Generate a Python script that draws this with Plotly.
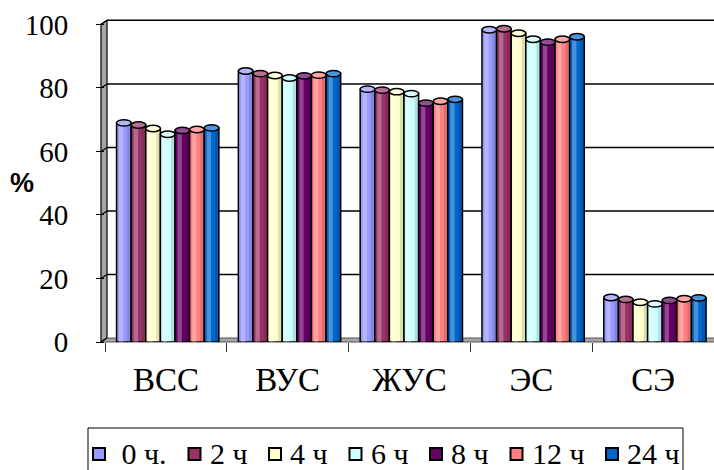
import plotly.graph_objects as go

# ---- data -------------------------------------------------------------
categories = ["ВСС", "ВУС", "ЖУС", "ЭС", "СЭ"]
series_names = [" 0 ч.", "2 ч", "4 ч", "6 ч", "8 ч", "12 ч", "24 ч"]

h0 = [69.0, 85.3, 79.6, 98.3, 14.0]
h2 = [68.3, 84.5, 79.3, 98.6, 13.4]
h4 = [67.2, 83.9, 78.8, 97.2, 12.5]
h6 = [65.4, 83.1, 78.2, 95.3, 12.0]
h8 = [66.6, 83.8, 75.2, 94.4, 13.1]
h12 = [66.9, 84.0, 75.8, 95.3, 13.6]
h24 = [67.4, 84.5, 76.4, 96.1, 13.9]
series_values = [h0, h2, h4, h6, h8, h12, h24]

y_ticks = [0, 20, 40, 60, 80, 100]

# ---- style ------------------------------------------------------------
colors = ["#9999FF", "#993366", "#FFFFCC", "#CCFFFF", "#660066", "#FF8080", "#0066CC"]
SERIF = "Liberation Serif"
SANS = "Liberation Sans"

W_PX, H_PX = 714, 470
M_L, M_R, M_T, M_B = 105, 0, 18, 128
PLOT_W = W_PX - M_L - M_R
PLOT_H = H_PX - M_T - M_B
Y_MAX = 102.0

BAR_W = 0.12          # width of one cylinder (category step = 1)
SHIFT = 0.015         # slight right shift of the bar block (depth effect)
DEPTH_DX, DEPTH_DY = 6, 4   # back-wall offset in pixels
FRONT_PX = 101
CAP_H = 1.0           # half-height of the cylinder top ellipse (data units)

# legend box geometry (pixels)
LEG_LEFT, LEG_RIGHT, LEG_TOP = 88, 683, 428
LEG_FONT = 30
LEG_SQ = 12           # swatch size
LEG_SQ_GAP = 8        # swatch -> text
LEG_ITEM_GAP = 23     # text -> next swatch
LEG_MID = 454         # vertical centre of the legend row


def px_x(px):
    return (px - M_L) / PLOT_W


def px_y(py):
    return (M_T + PLOT_H - py) / PLOT_H


def val_y(v, dy_px=0.0):
    return v / Y_MAX + dy_px / PLOT_H


def tint(hex_color, k):
    r, g, b = (int(hex_color[i:i + 2], 16) for i in (1, 3, 5))
    r, g, b = (int(c + (255 - c) * k) for c in (r, g, b))
    return f"#{r:02x}{g:02x}{b:02x}"


def text_width(s, size):
    # rough advance widths for a Times-like face
    w = 0.0
    for ch in s:
        if ch == " " or ch == ".":
            w += 0.25
        else:
            w += 0.5
    return w * size


fig = go.Figure()
shapes = []
annotations = []

n = len(series_names)
for j, (name, vals, col) in enumerate(zip(series_names, series_values, colors)):
    xs = [i + (j - (n - 1) / 2) * BAR_W + SHIFT for i in range(len(categories))]
    # cylinder body
    fig.add_trace(go.Bar(
        x=xs, y=vals, width=BAR_W, name=name,
        marker=dict(color=col, line=dict(color="black", width=1.5)),
        hoverinfo="skip", showlegend=False,
    ))
    # soft highlight on the left half of each cylinder
    fig.add_trace(go.Bar(
        x=[x - 0.022 for x in xs], y=vals, width=0.035,
        marker=dict(color="white", opacity=0.28, line=dict(width=0)),
        showlegend=False, hoverinfo="skip",
    ))
    # darker rim on the right side
    fig.add_trace(go.Bar(
        x=[x + 0.042 for x in xs], y=vals, width=0.03,
        marker=dict(color="black", opacity=0.13, line=dict(width=0)),
        showlegend=False, hoverinfo="skip",
    ))
    # elliptical tops
    for x, v in zip(xs, vals):
        shapes.append(dict(
            type="circle", xref="x", yref="y", layer="above",
            x0=x - BAR_W / 2, x1=x + BAR_W / 2, y0=v - CAP_H, y1=v + CAP_H,
            fillcolor=tint(col, 0.3), line=dict(color="black", width=1.5),
        ))

back_x = px_x(FRONT_PX + DEPTH_DX)
front_x = px_x(FRONT_PX)

# side wall
shapes.append(dict(
    type="path", xref="paper", yref="paper", layer="below",
    path=(f"M {front_x} {val_y(0)} L {back_x} {val_y(0, DEPTH_DY)} "
          f"L {back_x} {val_y(100, DEPTH_DY)} L {front_x} {val_y(100)} Z"),
    fillcolor="#a6a6a6", line=dict(color="black", width=1.2),
))
# floor
shapes.append(dict(
    type="path", xref="paper", yref="paper", layer="below",
    path=(f"M {front_x} {val_y(0)} L {back_x} {val_y(0, DEPTH_DY)} "
          f"L 1.01 {val_y(0, DEPTH_DY)} L 1.01 {val_y(0)} Z"),
    fillcolor="#a6a6a6", line=dict(color="#555555", width=1),
))
# back-wall gridlines and their links to the tick marks
for v in y_ticks[1:]:
    shapes.append(dict(
        type="line", xref="paper", yref="paper", layer="below",
        x0=back_x, x1=1.01, y0=val_y(v, DEPTH_DY), y1=val_y(v, DEPTH_DY),
        line=dict(color="black", width=1.5),
    ))
for v in y_ticks:
    shapes.append(dict(
        type="line", xref="paper", yref="paper", layer="below",
        x0=front_x, x1=back_x, y0=val_y(v), y1=val_y(v, DEPTH_DY),
        line=dict(color="black", width=1.2),
    ))

# legend: framed row of swatches and labels
shapes.append(dict(
    type="rect", xref="paper", yref="paper", layer="above",
    x0=px_x(LEG_LEFT), x1=px_x(LEG_RIGHT), y0=px_y(LEG_TOP), y1=px_y(H_PX + 20),
    fillcolor="white", line=dict(color="black", width=1),
))
cursor = 93
for name, col in zip(series_names, colors):
    shapes.append(dict(
        type="rect", xref="paper", yref="paper", layer="above",
        x0=px_x(cursor), x1=px_x(cursor + LEG_SQ),
        y0=px_y(LEG_MID + LEG_SQ / 2), y1=px_y(LEG_MID - LEG_SQ / 2),
        fillcolor=col, line=dict(color="black", width=2),
    ))
    tx = cursor + LEG_SQ + LEG_SQ_GAP
    annotations.append(dict(
        text=name, xref="paper", yref="paper", x=px_x(tx), y=px_y(LEG_MID - 1),
        xanchor="left", yanchor="middle", showarrow=False, borderpad=0,
        font=dict(family=SERIF, size=LEG_FONT, color="black"),
    ))
    cursor = tx + text_width(name, LEG_FONT) + LEG_ITEM_GAP

annotations.append(dict(
    text="<b>%</b>", xref="paper", yref="paper",
    x=px_x(22), y=px_y(183), xanchor="center", yanchor="middle",
    showarrow=False, font=dict(family=SANS, size=27, color="black"),
))

fig.update_layout(
    width=W_PX, height=H_PX,
    margin=dict(l=M_L, r=M_R, t=M_T, b=M_B, autoexpand=False),
    paper_bgcolor="white", plot_bgcolor="white",
    barmode="overlay",
    shapes=shapes,
    annotations=annotations,
    showlegend=False,
    xaxis=dict(
        range=[-0.5, len(categories) - 0.5],
        tickvals=list(range(len(categories))), ticktext=categories,
        ticks="", showgrid=False, zeroline=False, showline=False,
        tickfont=dict(family=SERIF, size=33, color="black"),
        ticklabelstandoff=15,
        minor=dict(tickvals=[i - 0.5 for i in range(len(categories) + 1)],
                   ticks="outside", ticklen=9, tickcolor="#333333", tickwidth=1.2,
                   showgrid=False),
    ),
    yaxis=dict(
        range=[0, Y_MAX], tickvals=y_ticks,
        ticks="outside", ticklen=8, tickcolor="black", tickwidth=1.2,
        showgrid=False, zeroline=False, showline=False,
        tickfont=dict(family=SERIF, size=29, color="black"),
        ticklabelstandoff=22,
    ),
)

fig.write_html("out.html")
